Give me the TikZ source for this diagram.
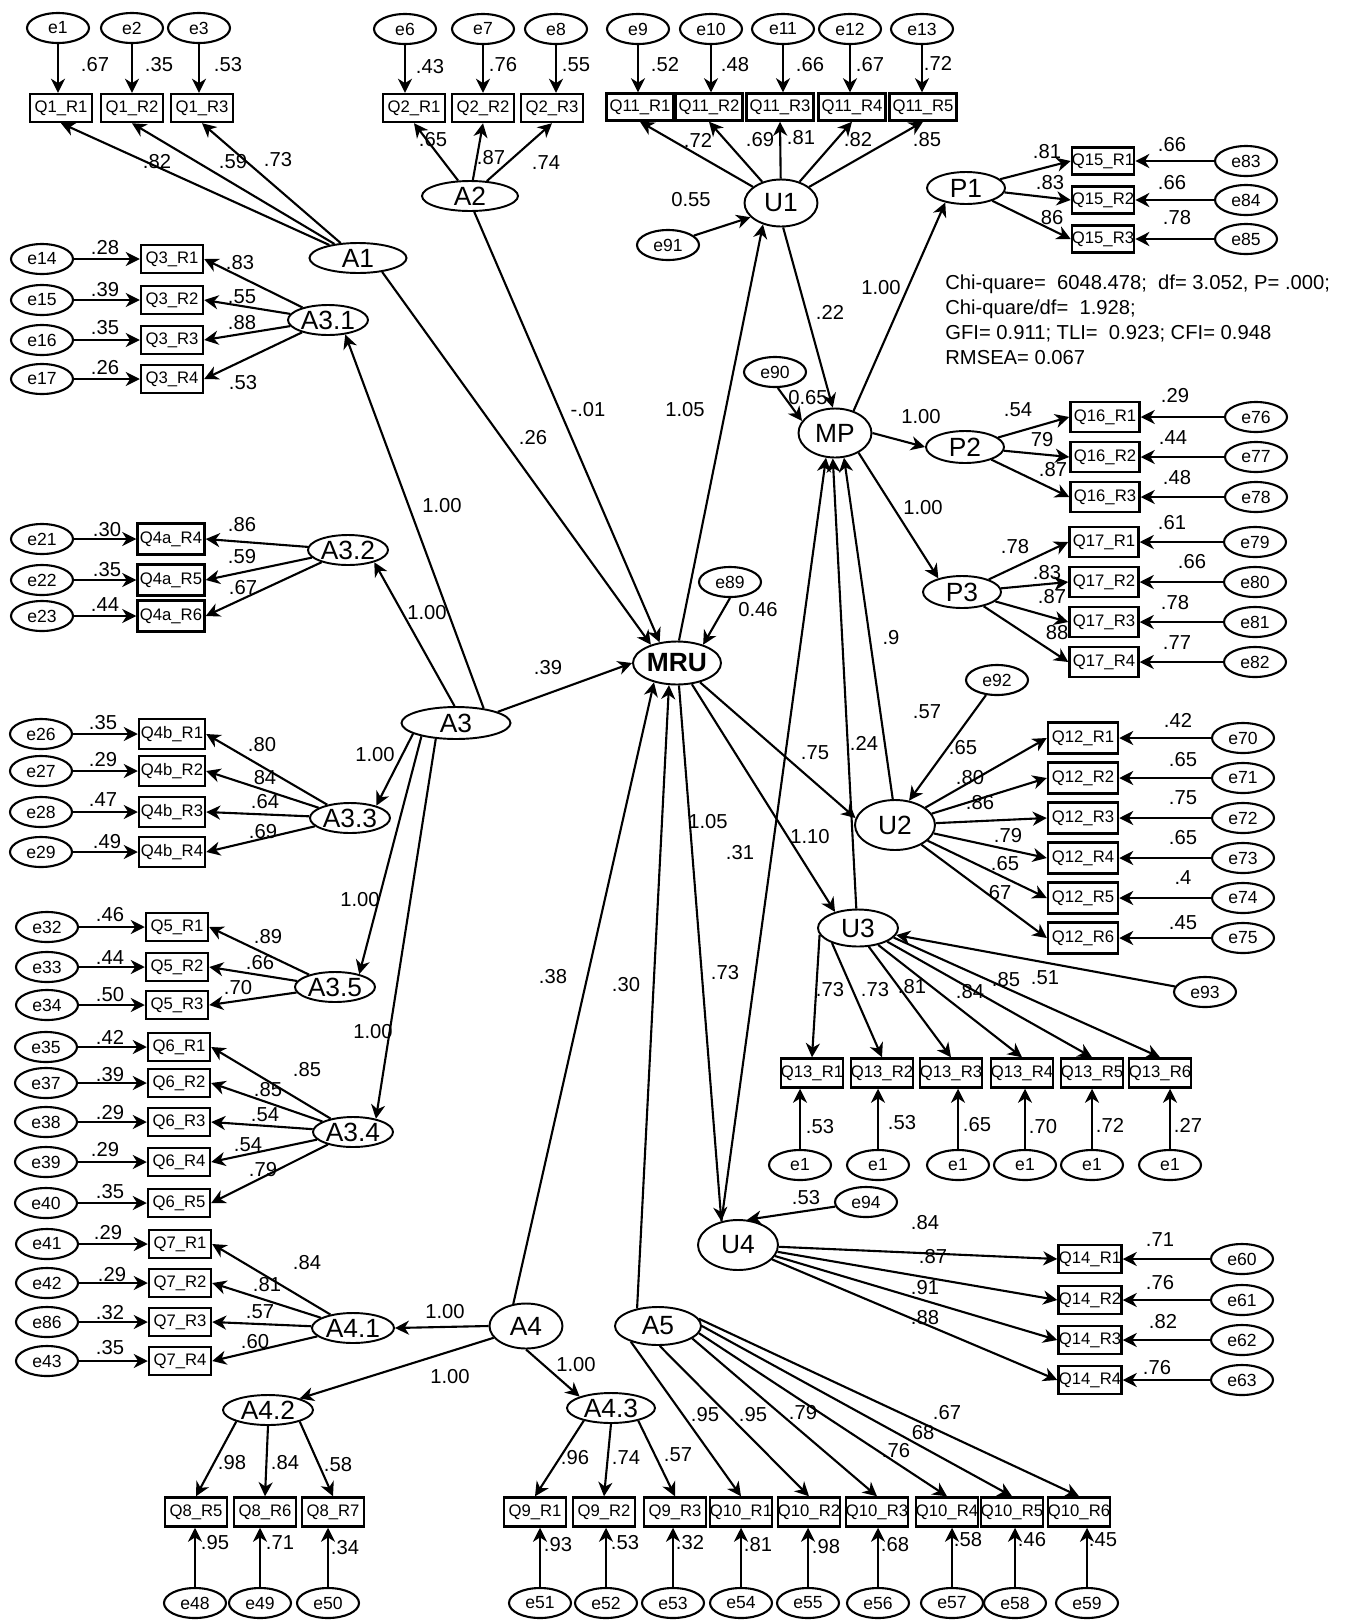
\documentclass[tikz,border=0pt]{standalone}
\usepackage{fontspec}
\setmainfont{Liberation Sans}
\usetikzlibrary{shapes.geometric,arrows.meta}

\begin{document}
\begin{tikzpicture}[x=0.02cm,y=-0.02cm,
  lat/.style={ellipse,draw,line width=1.1pt,inner sep=0pt,minimum width=1.6cm,minimum height=0.6cm,font=\fontsize{15}{16}\selectfont},
  err/.style={ellipse,draw,line width=1.2pt,inner sep=0pt,minimum width=1.24cm,minimum height=0.6cm,font=\fontsize{10}{11}\selectfont},
  obs/.style={draw,line width=1.4pt,inner sep=0pt,minimum width=1.24cm,minimum height=0.56cm,font=\fontsize{9.5}{10}\selectfont},
  lbl/.style={inner sep=0pt,font=\fontsize{11.5}{13}\selectfont},
  arr/.style={-{Stealth[length=8pt,width=8pt,inset=2.5pt]},line width=1.2pt}]
\useasboundingbox (0,0) rectangle (1358,1620);

% latent variables
\node[lat,minimum width=1.94cm] (A1) at (358,258) {A1};
\node[lat,minimum width=1.92cm] (A2) at (470,196) {A2};
\node[lat,minimum width=2.18cm,minimum height=0.64cm] (A3) at (456,723) {A3};
\node[lat] (A31) at (328,320) {A3.1};
\node[lat] (A32) at (348,550) {A3.2};
\node[lat] (A33) at (350,818) {A3.3};
\node[lat] (A35) at (335,987) {A3.5};
\node[lat] (A34) at (353,1132) {A3.4};
\node[lat,minimum width=1.46cm,minimum height=0.9cm] (A4) at (526,1326) {A4};
\node[lat,minimum width=1.72cm,minimum height=0.76cm] (A5) at (658,1326) {A5};
\node[lat,minimum width=1.64cm] (A41) at (353,1328) {A4.1};
\node[lat,minimum width=1.8cm] (A42) at (268,1410) {A4.2};
\node[lat,minimum width=1.76cm] (A43) at (611,1408) {A4.3};
\node[lat,minimum width=1.46cm,minimum height=0.94cm] (U1) at (781,203) {U1};
\node[lat,minimum height=1cm] (U2) at (895,825) {U2};
\node[lat,minimum height=0.74cm] (U3) at (858,928) {U3};
\node[lat,minimum height=1cm] (U4) at (738,1245) {U4};
\node[lat,minimum width=1.46cm,minimum height=0.98cm] (MP) at (835,433) {MP};
\node[lat,minimum width=1.76cm,minimum height=0.86cm,font=\fontsize{15}{16}\selectfont\bfseries] (MRU) at (677,663) {MRU};
\node[lat,minimum width=1.56cm,minimum height=0.64cm] (P1) at (966,188) {P1};
\node[lat,minimum width=1.56cm,minimum height=0.64cm] (P2) at (965,447) {P2};
\node[lat,minimum width=1.56cm,minimum height=0.64cm] (P3) at (962,592) {P3};

% top row
\foreach \i/\x/\e/\ex in {1/61/1/58,2/132/2/132,3/202/3/199}{
  \node[obs] (q1r\i) at (\x,108) {Q1\_R\i};
  \node[err] (e\e) at (\ex,28) {e\e};
  \draw[arr] (e\e) -- (e\e |- q1r\i.north);
  \draw[arr] (A1) -- (q1r\i.south);
}
\foreach \i/\x/\e/\ex in {1/414/6/405,2/483/7/483,3/552/8/556}{
  \node[obs] (q2r\i) at (\x,108) {Q2\_R\i};
  \node[err] (e\e) at (\ex,29) {e\e};
  \draw[arr] (e\e) -- (e\e |- q2r\i.north);
  \draw[arr] (A2) -- (q2r\i.south);
}
\foreach \i/\x/\e/\ex in {1/640/9/638,2/709/10/711,3/780/11/783,4/852/12/850,5/923/13/922}{
  \node[obs,minimum width=1.34cm,minimum height=0.54cm] (q11r\i) at (\x,107) {Q11\_R\i};
  \node[err] (e\e) at (\ex,29) {e\e};
  \draw[arr] (e\e) -- (e\e |- q11r\i.north);
  \draw[arr] (U1) -- (q11r\i.south);
}

% left side
\foreach \i/\y/\e in {1/259/14,2/300/15,3/340/16,4/379/17}{
  \node[obs] (q3r\i) at (172,\y) {Q3\_R\i};
  \node[err] (e\e) at (42,\y) {e\e};
  \draw[arr] (e\e) -- (q3r\i);
  \draw[arr] (A31) -- (q3r\i.east);
}
\foreach \i/\y/\e in {4/539/21,5/580/22,6/616/23}{
  \node[obs,minimum width=1.34cm,minimum height=0.62cm] (q4ar\i) at (171,\y) {Q4a\_R\i};
  \node[err] (e\e) at (42,\y) {e\e};
  \draw[arr] (e\e) -- (q4ar\i);
  \draw[arr] (A32) -- (q4ar\i.east);
}
\foreach \i/\y/\e in {1/734/26,2/771/27,3/812/28,4/852/29}{
  \node[obs,minimum width=1.32cm,minimum height=0.6cm] (q4br\i) at (172,\y) {Q4b\_R\i};
  \node[err] (e\e) at (41,\y) {e\e};
  \draw[arr] (e\e) -- (q4br\i);
  \draw[arr] (A33) -- (q4br\i.east);
}
\foreach \i/\y/\e in {1/927/32,2/967/33,3/1005/34}{
  \node[obs] (q5r\i) at (177,\y) {Q5\_R\i};
  \node[err] (e\e) at (47,\y) {e\e};
  \draw[arr] (e\e) -- (q5r\i);
  \draw[arr] (A35) -- (q5r\i.east);
}
\foreach \i/\y/\e in {1/1047/35,2/1083/37,3/1122/38,4/1162/39,5/1203/40}{
  \node[obs] (q6r\i) at (179,\y) {Q6\_R\i};
  \node[err] (e\e) at (46,\y) {e\e};
  \draw[arr] (e\e) -- (q6r\i);
  \draw[arr] (A34) -- (q6r\i.east);
}
\foreach \i/\y/\e in {1/1244/41,2/1283/42,3/1322/86,4/1361/43}{
  \node[obs] (q7r\i) at (180,\y) {Q7\_R\i};
  \node[err] (e\e) at (47,\y) {e\e};
  \draw[arr] (e\e) -- (q7r\i);
  \draw[arr] (A41) -- (q7r\i.east);
}

% right side
\foreach \i/\y/\e in {1/161/83,2/200/84,3/239/85}{
  \node[obs,minimum height=0.54cm] (q15r\i) at (1103,\y) {Q15\_R\i};
  \node[err] (e\e) at (1246,\y) {e\e};
  \draw[arr] (e\e) -- (q15r\i);
  \draw[arr] (P1) -- (q15r\i.west);
}
\foreach \i/\y/\e in {1/417/76,2/457/77,3/497/78}{
  \node[obs,minimum width=1.38cm,minimum height=0.6cm] (q16r\i) at (1105,\y) {Q16\_R\i};
  \node[err] (e\e) at (1256,\y) {e\e};
  \draw[arr] (e\e) -- (q16r\i);
  \draw[arr] (P2) -- (q16r\i.west);
}
\foreach \i/\y/\e in {1/542/79,2/582/80,3/622/81,4/662/82}{
  \node[obs,minimum width=1.38cm,minimum height=0.6cm] (q17r\i) at (1104,\y) {Q17\_R\i};
  \node[err] (e\e) at (1255,\y) {e\e};
  \draw[arr] (e\e) -- (q17r\i);
  \draw[arr] (P3) -- (q17r\i.west);
}
\foreach \i/\y/\e in {1/738/70,2/778/71,3/818/72,4/858/73,5/898/74,6/938/75}{
  \node[obs,minimum width=1.4cm,minimum height=0.62cm] (q12r\i) at (1083,\y) {Q12\_R\i};
  \node[err] (e\e) at (1243,\y) {e\e};
  \draw[arr] (e\e) -- (q12r\i);
  \draw[arr] (U2) -- (q12r\i.west);
}
\foreach \i/\y/\e in {1/1259/60,2/1300/61,3/1340/62,4/1380/63}{
  \node[obs,minimum width=1.26cm] (q14r\i) at (1090,\y) {Q14\_R\i};
  \node[err] (e\e) at (1242,\y) {e\e};
  \draw[arr] (e\e) -- (q14r\i);
  \draw[arr] (U4) -- (q14r\i.west);
}

% bottom rows
\foreach \i/\x/\ex/\a in {1/812/800/-170,2/882/878/-150,3/951/958/-60,4/1022/1025/-40,5/1092/1092/-25,6/1160/1170/-15}{
  \node[obs,minimum height=0.58cm] (q13r\i) at (\x,1073) {Q13\_R\i};
  \node[err] (f\i) at (\ex,1165) {e1};
  \draw[arr] (f\i) -- (f\i |- q13r\i.south);
  \draw[arr] (U3.\a) -- (q13r\i.north);
}
\foreach \i/\x/\e/\ex/\a in {5/196/48/195/-160,6/265/49/260/-90,7/333/50/328/-20}{
  \node[obs,minimum height=0.58cm] (q8r\i) at (\x,1512) {Q8\_R\i};
  \node[err] (e\e) at (\ex,1603) {e\e};
  \draw[arr] (e\e) -- (e\e |- q8r\i.south);
  \draw[arr] (A42.\a) -- (q8r\i.north);
}
\foreach \i/\x/\e/\ex/\a in {1/535/51/540/-155,2/604/52/606/-90,3/675/53/673/-25}{
  \node[obs,minimum height=0.58cm] (q9r\i) at (\x,1512) {Q9\_R\i};
  \node[err] (e\e) at (\ex,1603) {e\e};
  \draw[arr] (e\e) -- (e\e |- q9r\i.south);
  \draw[arr] (A43.\a) -- (q9r\i.north);
}
\foreach \i/\x/\e/\ex/\a in {1/741/54/741/-150,2/809/55/808/-85,3/877/56/878/-20,4/947/57/952/-10,5/1012/58/1015/0,6/1079/59/1087/10}{
  \node[obs,minimum height=0.58cm] (q10r\i) at (\x,1512) {Q10\_R\i};
  \node[err] (e\e) at (\ex,1603) {e\e};
  \draw[arr] (e\e) -- (e\e |- q10r\i.south);
  \draw[arr] (A5.\a) -- (q10r\i.north);
}

% disturbances
\node[err] (e91) at (668,245) {e91};
\node[err] (e90) at (775,372) {e90};
\node[err] (e89) at (730,582) {e89};
\node[err] (e92) at (997,680) {e92};
\node[err] (e93) at (1205,992) {e93};
\node[err] (e94) at (866,1202) {e94};

% structural paths
\draw[arr] (A3.28) -- (A31.-40);
\draw[arr] (A3.95) -- (A32.-25);
\draw[arr] (A3.194) -- (A33.25);
\draw[arr] (A3.201) -- (A35.28);
\draw[arr] (A3.218) -- (A34.30);
\draw[arr] (A3.15) -- (MRU.west);
\draw[arr] (A1.-30) -- (MRU.145);
\draw[arr] (A2.-75) -- (MRU.130);
\draw[arr] (MRU.85) -- (U1.-130);
\draw[arr] (e89.south) -- (MRU.35);
\draw[arr] (e91.20) -- (U1.205);
\draw[arr] (U1.-85) -- (MP.95);
\draw[arr] (e90.-80) -- (MP.160);
\draw[arr] (MP.50) -- (P1.215);
\draw[arr] (MP.east) -- (P2.west);
\draw[arr] (MP.-40) -- (P3.150);
\draw[arr] (MRU.-40) -- (U2.170);
\draw[arr] (MRU.-55) -- (U3.145);
\draw[arr] (MRU.-85) -- (U4.125);
\draw[arr] (U4.125) -- (MP.-110);
\draw[arr] (U3.95) -- (MP.-95);
\draw[arr] (U2.95) -- (MP.-70);
\draw[arr] (e92) -- (U2.60);
\draw[arr] (e93) -- (U3);
\draw[arr] (e94) -- (U4.70);
\draw[arr] (A4.120) -- (MRU.-140);
\draw[arr] (A5.140) -- (MRU.-110);
\draw[arr] (A4.west) -- (A41.east);
\draw[arr] (A4.200) -- (A42.20);
\draw[arr] (A4.-90) -- (A43.160);

% estimates
\foreach \x/\y/\t [count=\k] in {
95/65/.67, 159/65/.35, 228/65/.53, 157/162/.82, 233/162/.59, 278/160/.73,
430/67/.43, 503/65/.76, 576/65/.55, 433/140/.65, 491/158/.87, 546/163/.74,
665/65/.52, 735/65/.48, 810/65/.66, 870/65/.67, 938/63/.72,
698/140/.72, 760/140/.69, 801/138/.81, 858/140/.82, 927/140/.85, 691/200/0.55,
1047/152/.81, 1050/183/.83, 1052/218/86, 1172/145/.66, 1172/183/.66, 1177/218/.78,
105/248/.28, 105/290/.39, 105/328/.35, 105/368/.26,
240/263/.83, 242/297/.55, 242/323/.88, 243/383/.53,
442/506/1.00, 830/312/.22, 881/288/1.00, 808/398/0.65,
533/438/.26, 588/410/-.01, 685/410/1.05,
107/530/.30, 107/570/.35, 105/605/.44, 242/525/.86, 242/557/.59, 243/588/.67,
427/613/1.00, 758/610/0.46, 548/668/.39,
103/723/.35, 103/760/.29, 103/800/.47, 107/842/.49,
262/745/.80, 265/778/84, 265/802/.64, 263/832/.69, 375/755/1.00,
815/753/.75, 864/743/.24, 891/638/.9,
921/417/1.00, 1018/410/.54, 1042/440/79, 1053/470/.87,
1175/396/.29, 1173/438/.44, 1177/478/.48, 923/508/1.00,
1015/547/.78, 1047/573/.83, 1052/597/.87, 1057/633/88,
1172/523/.61, 1192/562/.66, 1175/603/.78, 1177/643/.77, 927/712/.57,
963/748/.65, 970/778/.80, 980/803/.86, 1008/836/.79, 1005/864/.65, 1000/893/67,
1178/720/.42, 1183/760/.65, 1183/798/.75, 1183/838/.65, 1183/878/.4, 1183/923/.45,
708/822/1.05, 740/853/.31, 810/837/1.10, 360/900/1.00,
110/915/.46, 110/958/.44, 110/995/.50, 268/937/.89, 260/963/.66, 238/988/.70,
553/977/.38, 626/985/.30, 725/973/.73,
830/990/.73, 875/990/.73, 912/987/.81, 970/992/.84, 1006/980/.85, 1045/978/.51,
373/1032/1.00,
110/1037/.42, 110/1075/.39, 110/1113/.29, 105/1150/.29, 110/1192/.35,
307/1070/.85, 268/1090/.85, 265/1115/.54, 248/1145/.54, 263/1170/.79,
820/1127/.53, 902/1123/.53, 977/1125/.65, 1043/1127/.70, 1110/1125/.72, 1188/1125/.27,
806/1198/.53, 925/1223/.84, 933/1257/.87, 925/1288/.91, 925/1318/.88,
1160/1240/.71, 1160/1283/.76, 1163/1322/.82, 1157/1368/.76,
108/1233/.29, 112/1275/.29, 110/1313/.32, 110/1348/.35,
307/1263/.84, 267/1285/.81, 260/1312/.57, 255/1342/.60,
445/1312/1.00, 450/1377/1.00, 576/1365/1.00,
232/1463/.98, 285/1463/.84, 338/1465/.58, 575/1458/.96, 626/1458/.74, 678/1455/.57,
705/1415/.95, 753/1415/.95, 803/1413/.79, 896/1451/.76, 923/1433/68, 947/1413/.67,
215/1543/.95, 280/1543/.71, 345/1548/.34,
558/1545/.93, 625/1543/.53, 690/1543/.32, 758/1545/.81, 826/1547/.98, 895/1545/.68,
968/1540/.58, 1032/1540/.46, 1103/1540/.45}
  \node[lbl] (v\k) at (\x,\y) {\t};

% fit indices
\node[lbl,anchor=north west,align=left,font=\fontsize{11.5}{14.2}\selectfont] (fit) at (945,275)
  {Chi-quare=~ 6048.478;~ df= 3.052, P= .000;\\
   Chi-quare/df=~ 1.928;\\
   GFI= 0.911; TLI=~ 0.923; CFI= 0.948\\
   RMSEA= 0.067};
\end{tikzpicture}
\end{document}
